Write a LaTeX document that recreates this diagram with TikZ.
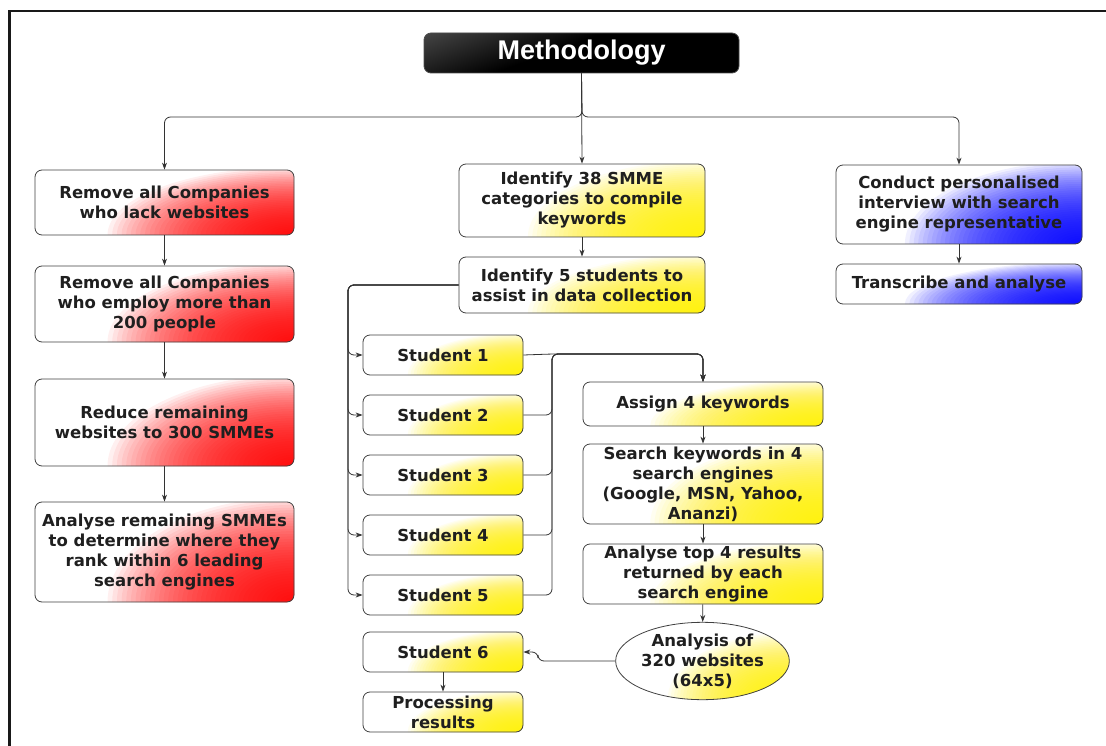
\documentclass[tikz,border=0pt]{standalone}
\usepackage{fontspec}
\setmainfont{DejaVu Sans}
\newfontfamily\titlefont{Liberation Sans}
\usetikzlibrary{arrows.meta,shapes.geometric}
\pgfdeclareverticalshading{blackfade}{100bp}{color(0bp)=(black); color(55bp)=(black); color(85bp)=(black!70); color(100bp)=(black!50)}
\newcommand\fadelayers[4]{%
  \foreach \k in {1,...,40}{%
    \fill[#1, opacity=0.057] (path picture bounding box.south east)
      ellipse [x radius={#4*0.72*#2*\k/40*1pt}, y radius={1.05*#3*\k/40*1pt}];}}
\begin{document}
\begin{tikzpicture}[x=1pt,y=-1pt,
  box/.style={draw=black!75, fill=white, line width=0.8pt, rounded corners=7pt, align=center,
    font=\bfseries\fontsize{16.5}{20}\selectfont, inner sep=0pt, text=black!88},
  redbox/.style 2 args={box, minimum width=#1pt, minimum height=#2pt, path picture={\fadelayers{red}{#1}{#2}{1}}},
  yelbox/.style 2 args={box, minimum width=#1pt, minimum height=#2pt, path picture={\fadelayers{yellow}{#1}{#2}{1}}},
  bluebox/.style 2 args={box, minimum width=#1pt, minimum height=#2pt, path picture={\fadelayers{blue}{#1}{#2}{1}}},
  conn/.style={draw=black!80, line width=0.8pt, rounded corners=6pt},
  arr/.style={conn, -{Stealth[length=7pt,width=5pt]}}]
\useasboundingbox (0,0) rectangle (1106,746);
\draw[line width=2.4pt, black!90] (9.5,746) -- (9.5,11) -- (1106,11);

% title
\node[draw=black!70, line width=0.8pt, rounded corners=7pt, shade, shading=blackfade, shading angle=20,
  minimum width=315pt, minimum height=40pt, inner sep=0pt,
  text=white, font=\titlefont\bfseries\fontsize{27}{30}\selectfont] (title) at (581.5,53) {Methodology};

% left column
\node[redbox={259}{65}] (L1) at (164.5,202.5) {Remove all Companies\\who lack websites};
\node[redbox={259}{76}] (L2) at (164.5,304) {Remove all Companies\\who employ more than\\200 people};
\node[redbox={259}{87}] (L3) at (164.5,422.5) {Reduce remaining\\websites to 300 SMMEs};
\node[redbox={259}{100}] (L4) at (164.5,552) {Analyse remaining SMMEs\\to determine where they\\rank within 6 leading\\search engines};

% middle column
\node[yelbox={246}{73}] (M1) at (582,200.5) {Identify 38 SMME\\categories to compile\\keywords};
\node[yelbox={246}{56}] (M2) at (582,285) {Identify 5 students to\\assist in data collection};

\foreach \i/\y in {1/355,2/415,3/475,4/535,5/595}{
  \node[yelbox={160}{40}] (S\i) at (443,\y) {Student \i};
}
\node[yelbox={160}{40}] (S6) at (443,652) {Student 6};
\node[yelbox={160}{40}] (P) at (443,712) {Processing\\results};

\node[yelbox={240}{44}] (A1) at (703,404) {Assign 4 keywords};
\node[yelbox={240}{80}] (A2) at (703,484) {Search keywords in 4\\search engines\\(Google, MSN, Yahoo,\\Ananzi)};
\node[yelbox={240}{60}] (A3) at (703,574) {Analyse top 4 results\\returned by each\\search engine};
\node[draw=black!75, fill=white, line width=0.8pt, ellipse, path picture={\fadelayers{yellow}{169}{64}{1.0}},
  minimum width=169pt, minimum height=72pt, inner sep=0pt, align=center,
  font=\bfseries\fontsize{16.5}{20}\selectfont, text=black!88] (E) at (702.5,661) {Analysis of\\320 websites\\(64x5)};

% right column
\node[bluebox={246}{79}] (R1) at (959,204.5) {Conduct personalised\\interview with search\\engine representative};
\node[bluebox={246}{40}] (R2) at (959,284) {Transcribe and analyse};

% connectors
\coordinate (hub) at (582,117);
\draw[arr] (title.south) -- (hub) -| (L1.north);
\draw[arr] (title.south) -- (M1.north);
\draw[arr] (title.south) -- (hub) -| (R1.north);

\draw[arr] (L1) -- (L2);
\draw[arr] (L2) -- (L3);
\draw[arr] (L3) -- (L4);
\draw[arr] (M1) -- (M2);
\draw[arr] (R1) -- (R2);

\coordinate (lbus) at (348,285);
\foreach \i in {1,...,5}{
  \draw[arr] (M2.west) -- (lbus) |- (S\i.west);
}
\coordinate (rbus) at (552,354);
\draw[arr] (S1.east) -- (rbus) -| (A1.north);
\foreach \i in {2,...,5}{
  \draw[arr] (S\i.east) -| (rbus) -| (A1.north);
}
\draw[arr] (A1) -- (A2);
\draw[arr] (A2) -- (A3);
\draw[arr] (A3) -- (E);
\coordinate (ej) at (538,661);
\draw[arr] (E.west) -- (ej) |- (S6.east);
\draw[arr] (S6) -- (P);
\end{tikzpicture}
\end{document}
